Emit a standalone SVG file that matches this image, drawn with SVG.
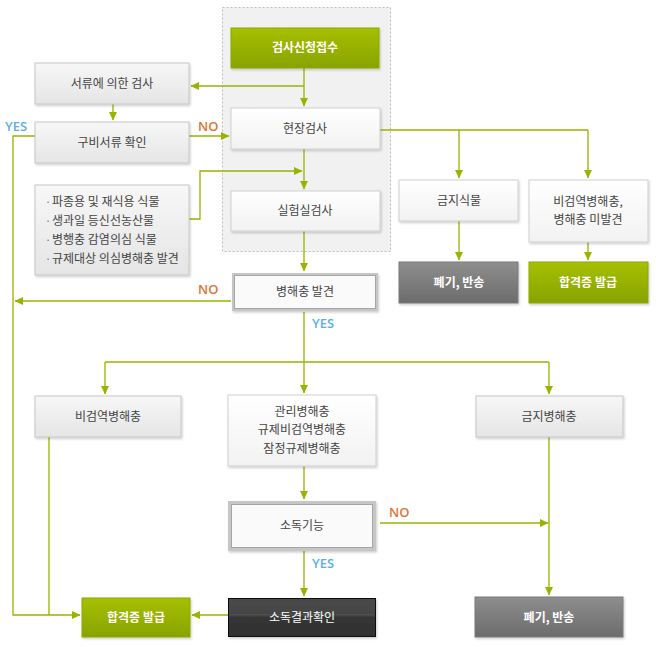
<svg xmlns="http://www.w3.org/2000/svg" width="656" height="647" viewBox="0 0 656 647">
<style>
text{font-family:"Noto Sans CJK KR","Noto Sans",sans-serif;font-size:12px;fill:#444;}
.c{text-anchor:middle;}
.w{fill:#fff;font-weight:bold;}
.gbox{fill:url(#gGray);stroke:#c6c6c6;stroke-width:1;filter:url(#sh);}
.lbox{fill:url(#gLight);stroke:#cfcfcf;stroke-width:1;filter:url(#sh);}
.green{fill:url(#gGreen);stroke:#8ea800;stroke-width:1;filter:url(#sh);}
.dark{fill:url(#gDark);stroke:#7a7a7a;stroke-width:1;filter:url(#sh);}
.conn path{fill:none;stroke:#98b400;stroke-width:1.3;}
.arr{marker-end:url(#ah);}
.yes{font-family:"Open Sans","Noto Sans",sans-serif;font-size:13px;fill:#5ab0e6;font-weight:600;}
.no{font-family:"Open Sans","Noto Sans",sans-serif;font-size:13px;fill:#e07433;font-weight:600;}
</style>
<defs>
<linearGradient id="gGray" x1="0" y1="0" x2="0" y2="1"><stop offset="0" stop-color="#f7f7f7"/><stop offset="1" stop-color="#e5e5e5"/></linearGradient>
<linearGradient id="gLight" x1="0" y1="0" x2="0" y2="1"><stop offset="0" stop-color="#ffffff"/><stop offset="1" stop-color="#f2f2f2"/></linearGradient>
<linearGradient id="gGreen" x1="0" y1="0" x2="0" y2="1"><stop offset="0" stop-color="#a6c000"/><stop offset="1" stop-color="#88a300"/></linearGradient>
<linearGradient id="gDark" x1="0" y1="0" x2="0" y2="1"><stop offset="0" stop-color="#8e8e8e"/><stop offset="1" stop-color="#6c6c6c"/></linearGradient>
<linearGradient id="gBlack" x1="0" y1="0" x2="0" y2="1"><stop offset="0" stop-color="#4a4a4a"/><stop offset="0.45" stop-color="#444"/><stop offset="0.5" stop-color="#353535"/><stop offset="1" stop-color="#303030"/></linearGradient>
<filter id="sh" x="-10%" y="-10%" width="125%" height="135%"><feDropShadow dx="1" dy="1.5" stdDeviation="1" flood-color="#000" flood-opacity="0.2"/></filter>
<marker id="ah" markerUnits="userSpaceOnUse" markerWidth="9" markerHeight="9" viewBox="0 0 9 9" refX="8" refY="4.5" orient="auto"><path d="M0,0.5 L8.5,4.5 L0,8.5 z" fill="#98b400"/></marker>
</defs>
<rect width="656" height="647" fill="#fff"/>
<g id="panel"><rect x="222.5" y="7.5" width="168" height="244" fill="#f1f1f1" stroke="#bdbdbd" stroke-dasharray="2,2"/></g>

<g class="conn" id="connectors">
<path class="arr" d="M304,68 V106"/>
<path class="arr" d="M304,86 H191"/>
<path class="arr" d="M113,104 V120"/>
<path class="arr" d="M189,136 H229"/>
<path class="arr" d="M35,136 H13 V615 H80"/>
<path class="arr" d="M304,149 V189"/>
<path class="arr" d="M189,219 H200 V171 H302"/>
<path d="M380,130 H588"/>
<path class="arr" d="M459,130 V178"/>
<path class="arr" d="M588,130 V178"/>
<path class="arr" d="M459,221 V260"/>
<path class="arr" d="M588,242 V260"/>
<path class="arr" d="M304,231 V271"/>
<path class="arr" d="M231,301 H15"/>
<path class="arr" d="M304,312 V393"/>
<path d="M105,362 H549"/>
<path class="arr" d="M105,362 V394"/>
<path class="arr" d="M549,362 V394"/>
<path d="M49,437 V615"/>
<path class="arr" d="M304,466 V499"/>
<path class="arr" d="M304,551 V596"/>
<path class="arr" d="M228,615 H192"/>
<path class="arr" d="M380,523 H548"/>
<path class="arr" d="M549,437 V595"/>
</g>

<g id="labels">
<text class="yes" x="5" y="131">YES</text>
<text class="no" x="198" y="131">NO</text>
<text class="no" x="198" y="294">NO</text>
<text class="yes" x="312" y="328">YES</text>
<text class="no" x="389" y="517">NO</text>
<text class="yes" x="312" y="568">YES</text>
</g>

<g id="n-apply"><rect class="green" x="231" y="28" width="148" height="40"/><text class="c w" x="305" y="52">검사신청접수</text></g>
<g id="n-doc"><rect class="gbox" x="35" y="63" width="154" height="41"/><text class="c" x="112" y="88">서류에 의한 검사</text></g>
<g id="n-check"><rect class="gbox" x="35" y="122" width="154" height="41"/><text class="c" x="112" y="147">구비서류 확인</text></g>
<g id="n-field"><rect class="lbox" x="231" y="108" width="149" height="41"/><text class="c" x="305" y="133">현장검사</text></g>
<g id="n-list"><rect class="gbox" x="35" y="185" width="154" height="90"/>
<text x="45" y="206" style="font-size:11px;fill:#777">·</text><text x="52" y="206">파종용 및 재식용 식물</text>
<text x="45" y="225" style="font-size:11px;fill:#777">·</text><text x="52" y="225">생과일 등신선농산물</text>
<text x="45" y="244" style="font-size:11px;fill:#777">·</text><text x="52" y="244">병행충 감염의심 식물</text>
<text x="45" y="263" style="font-size:11px;fill:#777">·</text><text x="52" y="263">규제대상 의심병해충 발견</text>
</g>
<g id="n-lab"><rect class="lbox" x="231" y="191" width="149" height="40"/><text class="c" x="305" y="215">실험실검사</text></g>
<g id="n-banned-plant"><rect class="lbox" x="399" y="180" width="119" height="41"/><text class="c" x="459" y="205">금지식물</text></g>
<g id="n-nonq"><rect class="lbox" x="529" y="180" width="119" height="62"/><text class="c" x="588" y="206">비검역병해충,</text><text class="c" x="588" y="224">병해충 미발견</text></g>
<g id="n-discard1"><rect class="dark" x="399" y="262" width="119" height="41"/><text class="c w" x="459" y="287">폐기, 반송</text></g>
<g id="n-pass1"><rect class="green" x="529" y="262" width="119" height="41"/><text class="c w" x="588" y="287">합격증 발급</text></g>
<g id="n-found"><rect x="232" y="273" width="146" height="38" fill="#c6c6c6" filter="url(#sh)"/><rect x="234.5" y="275.5" width="141" height="33" fill="#fafafa" stroke="#a5a5a5" stroke-width="1"/><text class="c" x="305" y="296">병해충 발견</text></g>
<g id="n-nonq2"><rect class="gbox" x="35" y="396" width="146" height="41"/><text class="c" x="108" y="421">비검역병해충</text></g>
<g id="n-mgmt"><rect class="lbox" x="228" y="395" width="148" height="71"/><text class="c" x="302" y="416">관리병해충</text><text class="c" x="302" y="434">규제비검역병해충</text><text class="c" x="302" y="453">잠정규제병해충</text></g>
<g id="n-banned-pest"><rect class="gbox" x="476" y="396" width="147" height="41"/><text class="c" x="549" y="421">금지병해충</text></g>
<g id="n-disinfect"><rect x="228" y="501" width="148" height="50" fill="#c6c6c6" filter="url(#sh)"/><rect x="231.5" y="504.5" width="141" height="43" fill="#fafafa" stroke="#a5a5a5" stroke-width="1"/><text class="c" x="302" y="530">소독기능</text></g>
<g id="n-result"><rect x="228.5" y="598.5" width="147" height="38" fill="url(#gBlack)" stroke="#111" filter="url(#sh)"/><line x1="230" y1="614.5" x2="374" y2="614.5" stroke="#5a5a5a" stroke-dasharray="1,1"/><text class="c w" x="302" y="622" style="font-weight:normal">소독결과확인</text></g>
<g id="n-pass2"><rect class="green" x="82" y="598" width="108" height="39"/><text class="c w" x="136" y="622">합격증 발급</text></g>
<g id="n-discard2"><rect class="dark" x="475" y="597" width="148" height="40"/><text class="c w" x="549" y="622">폐기, 반송</text></g>
</svg>
